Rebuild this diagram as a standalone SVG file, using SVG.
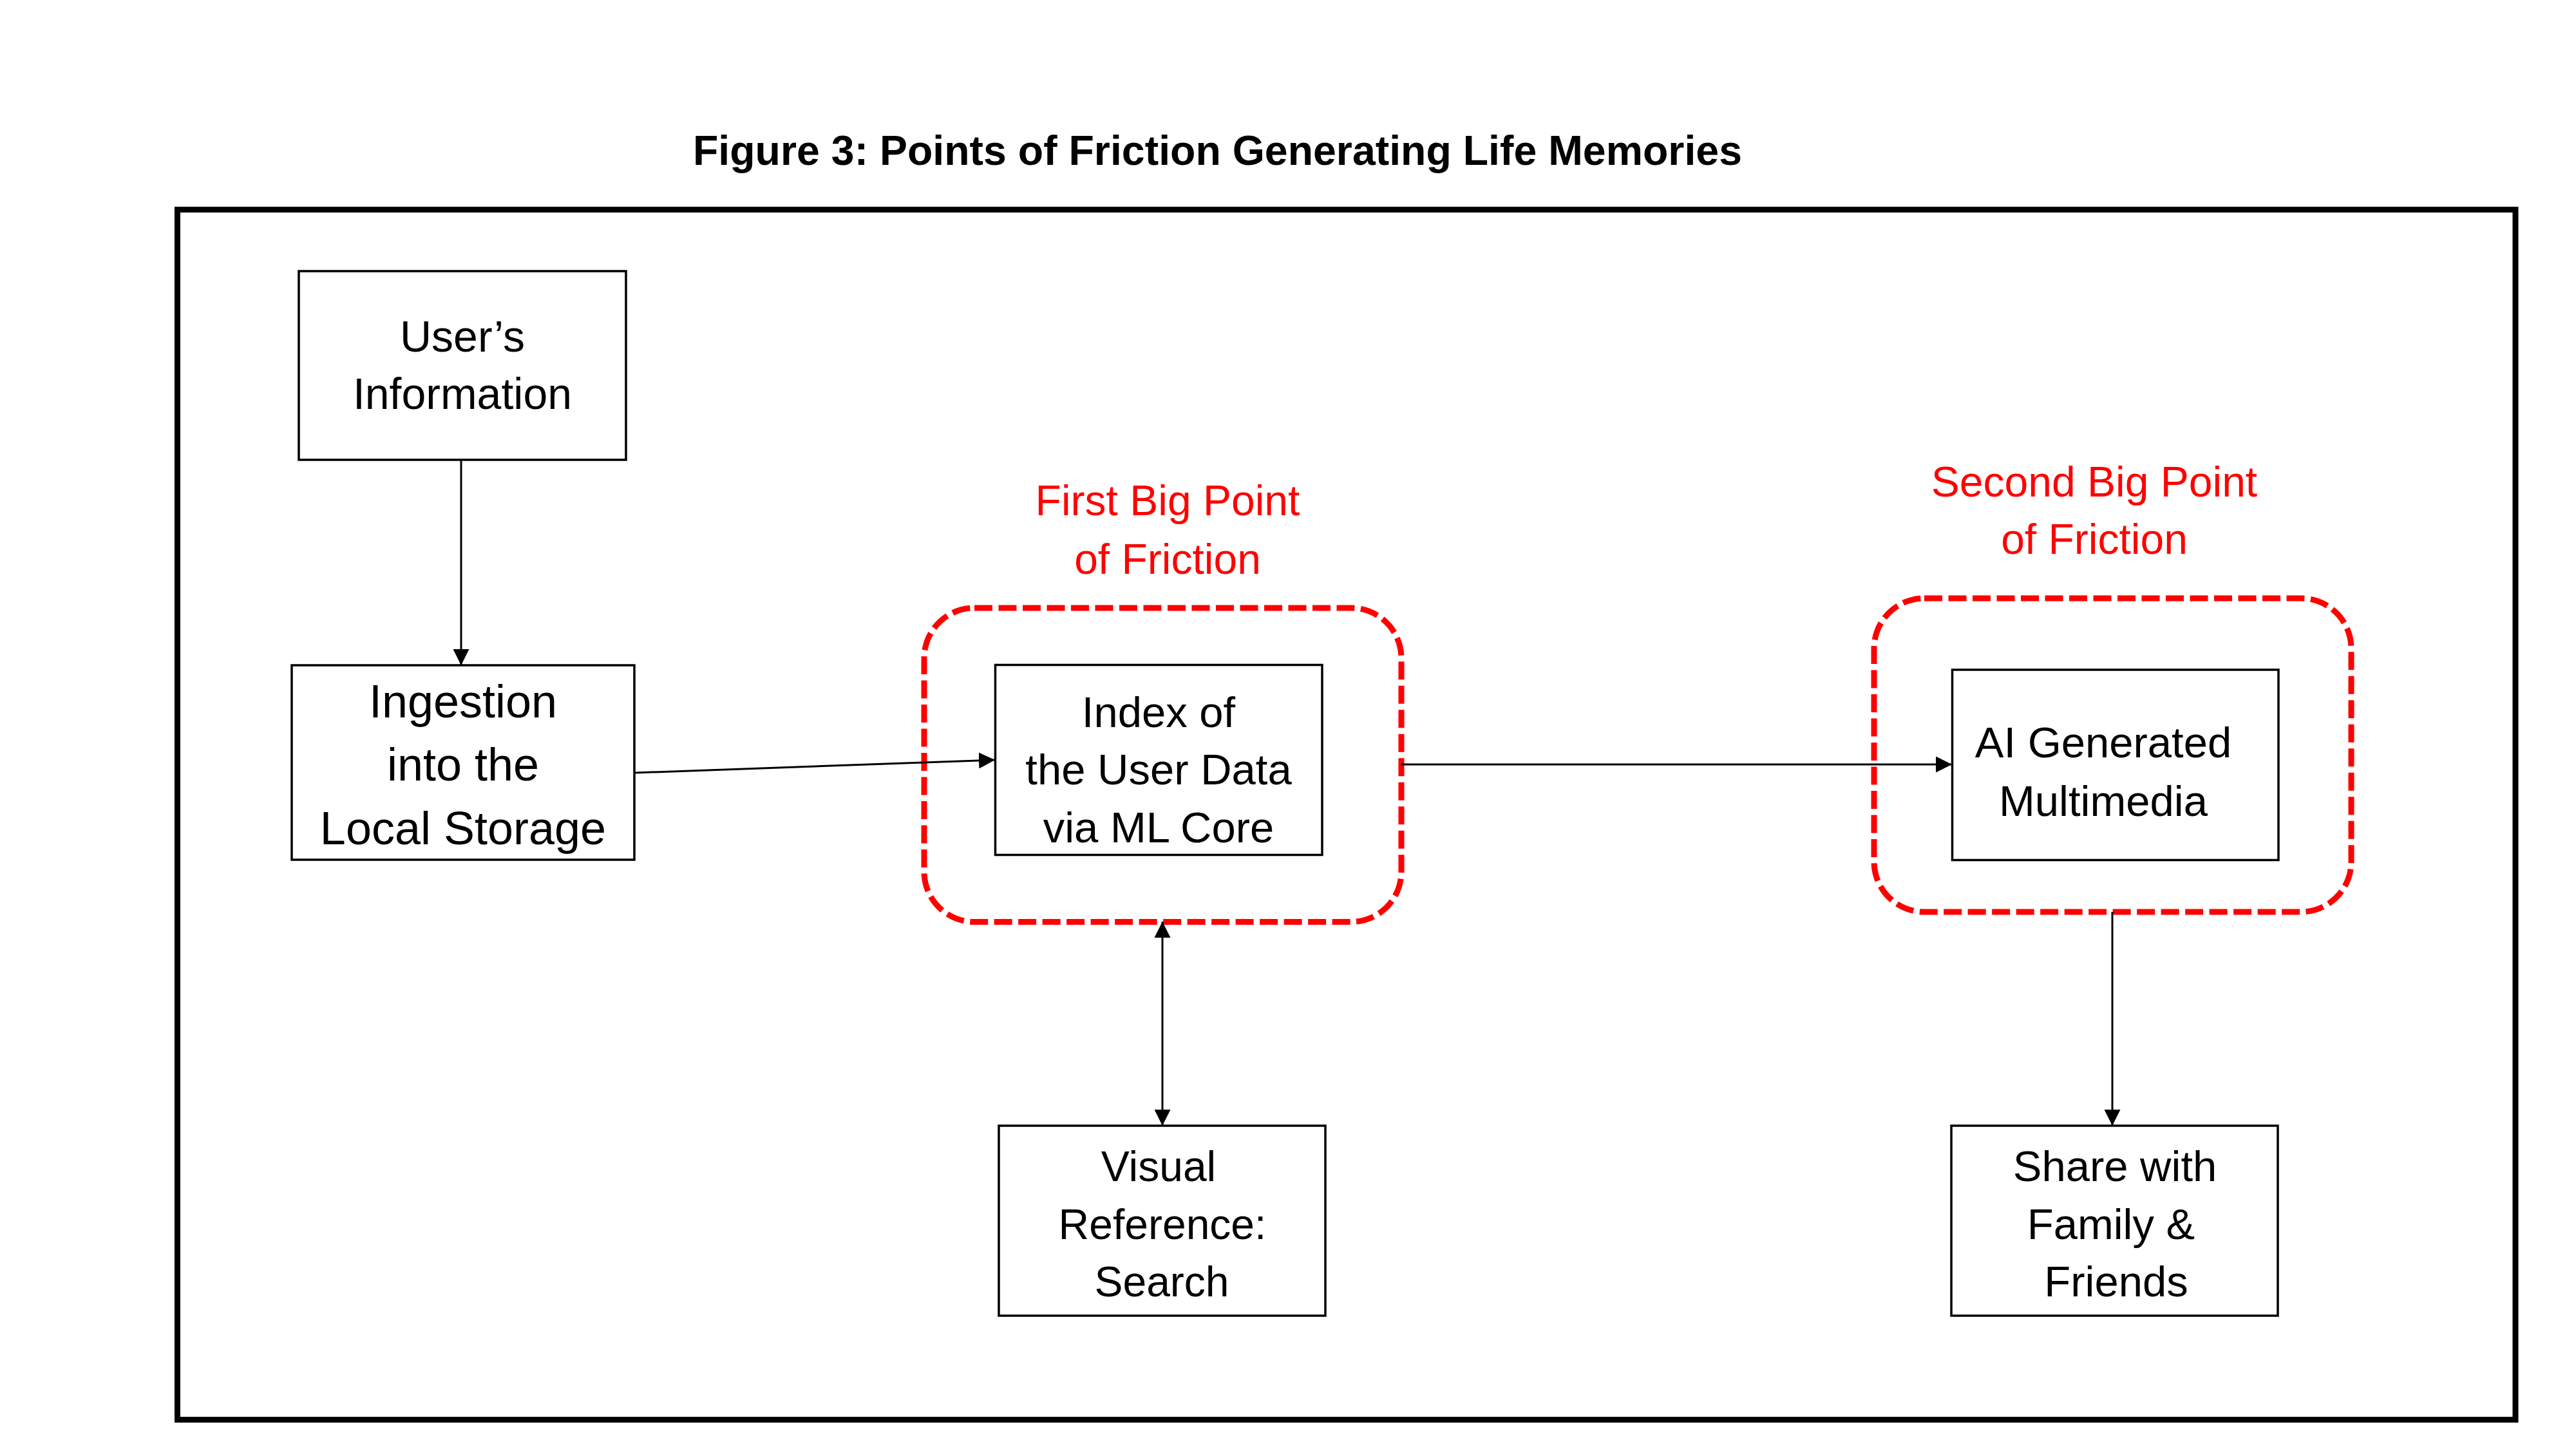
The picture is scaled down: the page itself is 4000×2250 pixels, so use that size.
<svg xmlns="http://www.w3.org/2000/svg" width="4000" height="2250" viewBox="0 0 4000 2250">
  <defs>
    <marker id="arrow" markerUnits="userSpaceOnUse" markerWidth="25" markerHeight="25" viewBox="0 0 25 25" refX="25" refY="12.5" orient="auto-start-reverse">
      <path d="M0,0 L25,12.5 L0,25 z" fill="#000"/>
    </marker>
    <style>
      .box { fill: #fff; stroke: #000; stroke-width: 3.5; }
      .friction { fill: none; stroke: #ff0000; stroke-width: 9; stroke-dasharray: 28 9.5; }
      .conn { fill: none; stroke: #000; stroke-width: 3; }
      .t { font-family: "Liberation Sans", Arial, sans-serif; fill: #000; text-anchor: middle; }
      .red { font-family: "Liberation Sans", Arial, sans-serif; fill: #ff0000; text-anchor: middle; font-size: 66px; }
      .title { font-family: "Liberation Sans", Arial, sans-serif; font-weight: bold; font-size: 65px; fill: #000; }
    </style>
  </defs>
  <rect width="4000" height="2250" fill="#fff"/>

  <text class="title" x="1076" y="256" textLength="1629" lengthAdjust="spacingAndGlyphs">Figure 3: Points of Friction Generating Life Memories</text>

  <rect id="frame" x="275.5" y="325.5" width="3630.5" height="1879" fill="none" stroke="#000" stroke-width="9"/>

  <g id="friction-1">
    <rect class="friction" x="1435" y="944" width="741" height="487.5" rx="78" ry="78"/>
    <text class="red" x="1813" y="800">First Big Point</text>
    <text class="red" x="1813" y="891">of Friction</text>
  </g>
  <g id="friction-2">
    <rect class="friction" x="2910" y="929" width="741" height="487" rx="78" ry="78"/>
    <text class="red" x="3252" y="771">Second Big Point</text>
    <text class="red" x="3252" y="860">of Friction</text>
  </g>

  <g id="connectors">
    <line class="conn" x1="716" y1="714" x2="716" y2="1033" marker-end="url(#arrow)"/>
    <line class="conn" x1="985" y1="1200" x2="1545" y2="1180" marker-end="url(#arrow)"/>
    <line class="conn" x1="2176" y1="1187" x2="3031" y2="1187" marker-end="url(#arrow)"/>
    <line class="conn" x1="1805" y1="1431" x2="1805" y2="1748" marker-start="url(#arrow)" marker-end="url(#arrow)"/>
    <line class="conn" x1="3280" y1="1416" x2="3280" y2="1748" marker-end="url(#arrow)"/>
  </g>

  <g id="users-information">
    <rect class="box" x="464" y="421" width="508" height="293"/>
    <text class="t" x="718" y="546" font-size="68">User’s</text>
    <text class="t" x="718" y="635" font-size="68">Information</text>
  </g>

  <g id="ingestion">
    <rect class="box" x="453" y="1033" width="532" height="302"/>
    <text class="t" x="719" y="1114" font-size="72">Ingestion</text>
    <text class="t" x="719" y="1212" font-size="72">into the</text>
    <text class="t" x="719" y="1311" font-size="72">Local Storage</text>
  </g>

  <g id="index">
    <rect class="box" x="1545.5" y="1032.5" width="507.5" height="295"/>
    <text class="t" x="1799" y="1129" font-size="67">Index of</text>
    <text class="t" x="1799" y="1218" font-size="67">the User Data</text>
    <text class="t" x="1799" y="1308" font-size="67">via ML Core</text>
  </g>

  <g id="ai-generated">
    <rect class="box" x="3031.5" y="1040" width="506.5" height="295.5"/>
    <text class="t" x="3266" y="1176" font-size="67">AI Generated</text>
    <text class="t" x="3266" y="1267" font-size="67">Multimedia</text>
  </g>

  <g id="visual-reference">
    <rect class="box" x="1551" y="1748" width="507" height="295"/>
    <text class="t" x="1799" y="1834" font-size="66">Visual</text>
    <text class="t" x="1805" y="1924" font-size="66">Reference:</text>
    <text class="t" x="1804" y="2013" font-size="66">Search</text>
  </g>

  <g id="share">
    <rect class="box" x="3030" y="1748" width="507" height="295"/>
    <text class="t" x="3284" y="1834" font-size="67">Share with</text>
    <text class="t" x="3278" y="1924" font-size="67">Family &amp;</text>
    <text class="t" x="3286" y="2013" font-size="67">Friends</text>
  </g>
</svg>
